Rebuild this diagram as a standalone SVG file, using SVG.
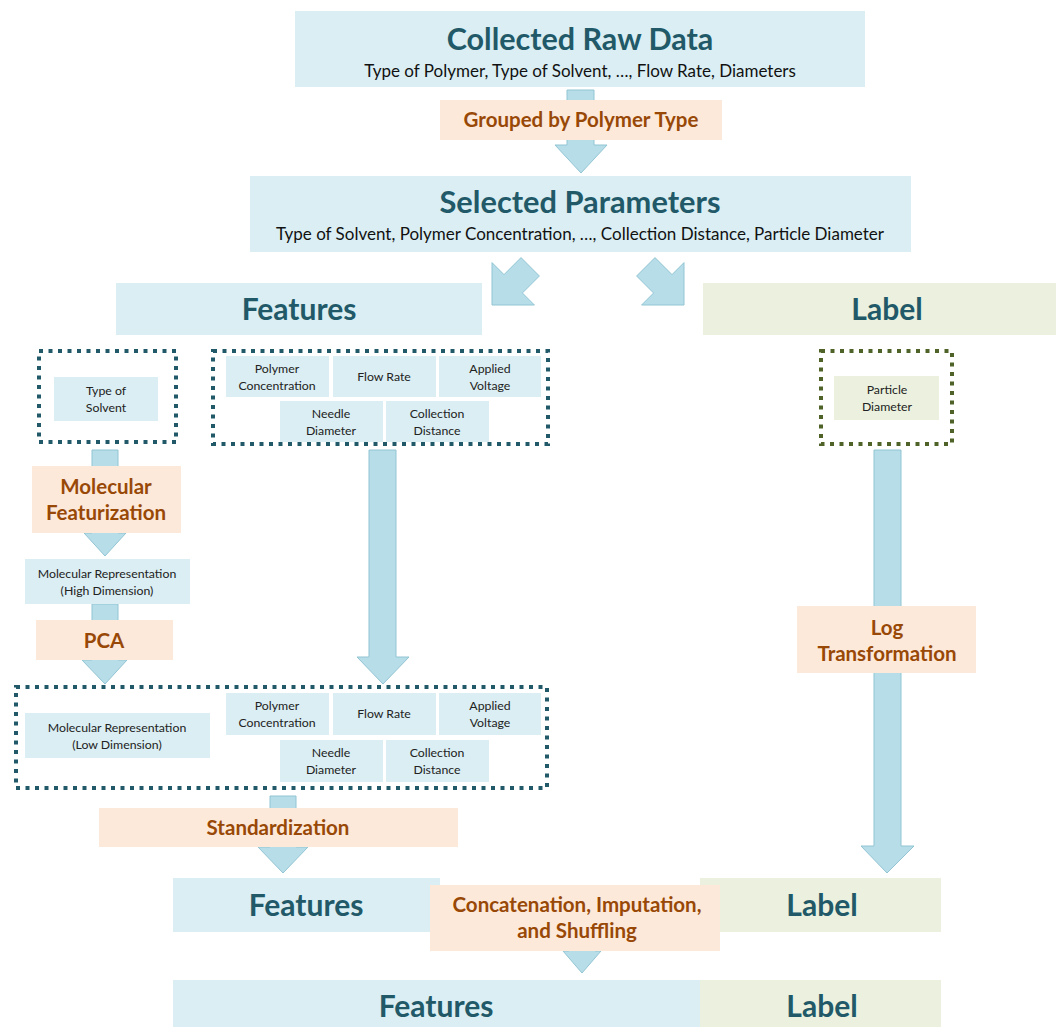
<svg xmlns="http://www.w3.org/2000/svg" width="1056" height="1027" viewBox="0 0 1056 1027">
<style>
.blue{fill:#daeef3}
.olive{fill:#ebf1de}
.orange{fill:#fde9d9}
.arrow{fill:#b7dde8;stroke:#92c5d4;stroke-width:1}
.dashT{fill:none;stroke:#215968;stroke-width:4;stroke-dasharray:4 5.5}
.dashO{fill:none;stroke:#4f6228;stroke-width:4;stroke-dasharray:4 5.5}
text{font-family:Lato,"Open Sans","Liberation Sans",sans-serif;text-anchor:middle}
.big{font-size:30px;font-weight:bold;fill:#215968}
.sub{font-size:17px;fill:#111}
.step{font-size:20.5px;font-weight:bold;fill:#984807}
.cell{font-size:12.3px;fill:#222}
</style>
<rect width="1056" height="1027" fill="#fff"/>
<g id="connectors">
<path class="arrow" d="M567,90 H594 V145 H607 L581,173 L555,145 H567 Z"/>
<path class="arrow" d="M492,305 L534.4,305 L522.4,293 L539.4,276 L521,257.6 L504,274.6 L492,262.6 Z"/>
<path class="arrow" d="M684,305 L641.6,305 L653.6,293 L636.6,276 L655,257.6 L672,274.6 L684,262.6 Z"/>
<path class="arrow" d="M92,450 H118 V533 H126 L105,556 L84,533 H92 Z"/>
<path class="arrow" d="M92,604 H118 V660 H127 L105,684 L82,660 H92 Z"/>
<path class="arrow" d="M369,450 H396 V657 H409 L383,684 L357,657 H369 Z"/>
<path class="arrow" d="M874,450 H901 V846 H914 L887,873 L861,846 H874 Z"/>
<path class="arrow" d="M270,796 H296 V847 H308 L283,873 L258,847 H270 Z"/>
<path class="arrow" d="M569,935 H595 V951 H601 L582,973 L563,951 H569 Z"/>
</g>
<g id="raw-data">
<rect class="blue" x="295" y="11" width="570" height="76"/>
<text class="big" x="580" y="50" style="font-size:30.5px">Collected Raw Data</text>
<text class="sub" x="580" y="77">Type of Polymer, Type of Solvent, …, Flow Rate, Diameters</text>
</g>
<g id="grouped">
<rect class="orange" x="440" y="100" width="282" height="40"/>
<text class="step" x="581" y="127">Grouped by Polymer Type</text>
</g>
<g id="selected">
<rect class="blue" x="250" y="176" width="661" height="76"/>
<text class="big" x="580" y="213" style="font-size:30.8px">Selected Parameters</text>
<text class="sub" x="580" y="240">Type of Solvent, Polymer Concentration, …, Collection Distance, Particle Diameter</text>
</g>
<g id="features-head">
<rect class="blue" x="116" y="283" width="366" height="52"/>
<text class="big" x="299" y="320">Features</text>
</g>
<g id="label-head">
<rect class="olive" x="703" y="283" width="353" height="52"/>
<text class="big" x="887" y="320">Label</text>
</g>
<g id="solvent-group">
<rect class="dashT" x="39" y="351" width="137" height="91"/>
<rect class="blue" x="54" y="377" width="104" height="44"/>
<text class="cell" x="106" y="395">Type of</text>
<text class="cell" x="106" y="412">Solvent</text>
</g>
<g id="params-group">
<rect class="dashT" x="213" y="351" width="335" height="93"/>
<rect class="blue" x="226" y="356" width="103" height="41"/>
<text class="cell" x="277" y="373">Polymer</text>
<text class="cell" x="277" y="390">Concentration</text>
<rect class="blue" x="333" y="356" width="103" height="41"/>
<text class="cell" x="384" y="381">Flow Rate</text>
<rect class="blue" x="439" y="356" width="102" height="41"/>
<text class="cell" x="490" y="373">Applied</text>
<text class="cell" x="490" y="390">Voltage</text>
<rect class="blue" x="280" y="401" width="103" height="41"/>
<text class="cell" x="331" y="418">Needle</text>
<text class="cell" x="331" y="435">Diameter</text>
<rect class="blue" x="386" y="401" width="103" height="41"/>
<text class="cell" x="437" y="418">Collection</text>
<text class="cell" x="437" y="435">Distance</text>
</g>
<g id="particle-group">
<rect class="dashO" x="821" y="351" width="131" height="93"/>
<rect class="olive" x="834" y="376" width="105" height="44"/>
<text class="cell" x="887" y="394">Particle</text>
<text class="cell" x="887" y="411">Diameter</text>
</g>
<g id="mol-feat">
<rect class="orange" x="32" y="466" width="149" height="67"/>
<text class="step" x="106" y="494">Molecular</text>
<text class="step" x="106" y="520">Featurization</text>
</g>
<g id="mol-high">
<rect class="blue" x="25" y="559" width="165" height="45"/>
<text class="cell" x="107" y="578">Molecular Representation</text>
<text class="cell" x="107" y="595">(High Dimension)</text>
</g>
<g id="pca">
<rect class="orange" x="36" y="620" width="137" height="40"/>
<text class="step" x="104" y="648">PCA</text>
</g>
<g id="log">
<rect class="orange" x="797" y="606" width="179" height="67"/>
<text class="step" x="887" y="635">Log</text>
<text class="step" x="887" y="661">Transformation</text>
</g>
<g id="combined-group">
<rect class="dashT" x="16" y="687" width="531" height="101"/>
<rect class="blue" x="25" y="713" width="185" height="45"/>
<text class="cell" x="117" y="732">Molecular Representation</text>
<text class="cell" x="117" y="749">(Low Dimension)</text>
<rect class="blue" x="226" y="693" width="103" height="42"/>
<text class="cell" x="277" y="710">Polymer</text>
<text class="cell" x="277" y="727">Concentration</text>
<rect class="blue" x="333" y="693" width="103" height="42"/>
<text class="cell" x="384" y="718">Flow Rate</text>
<rect class="blue" x="439" y="693" width="102" height="42"/>
<text class="cell" x="490" y="710">Applied</text>
<text class="cell" x="490" y="727">Voltage</text>
<rect class="blue" x="280" y="740" width="103" height="42"/>
<text class="cell" x="331" y="757">Needle</text>
<text class="cell" x="331" y="774">Diameter</text>
<rect class="blue" x="386" y="740" width="103" height="42"/>
<text class="cell" x="437" y="757">Collection</text>
<text class="cell" x="437" y="774">Distance</text>
</g>
<g id="standardization">
<rect class="orange" x="99" y="808" width="359" height="39"/>
<text class="step" x="278" y="835">Standardization</text>
</g>
<g id="features-mid">
<rect class="blue" x="173" y="878" width="267" height="54"/>
<text class="big" x="306" y="916">Features</text>
</g>
<g id="label-mid">
<rect class="olive" x="700" y="878" width="241" height="54"/>
<text class="big" x="822" y="916">Label</text>
</g>
<g id="concat">
<rect class="orange" x="430" y="885" width="290" height="66"/>
<text class="step" x="577" y="912">Concatenation, Imputation,</text>
<text class="step" x="577" y="938">and Shuffling</text>
</g>
<g id="final">
<rect class="blue" x="173" y="980" width="527" height="47"/>
<text class="big" x="436" y="1017">Features</text>
<rect class="olive" x="700" y="980" width="241" height="47"/>
<text class="big" x="822" y="1017">Label</text>
</g>
</svg>
